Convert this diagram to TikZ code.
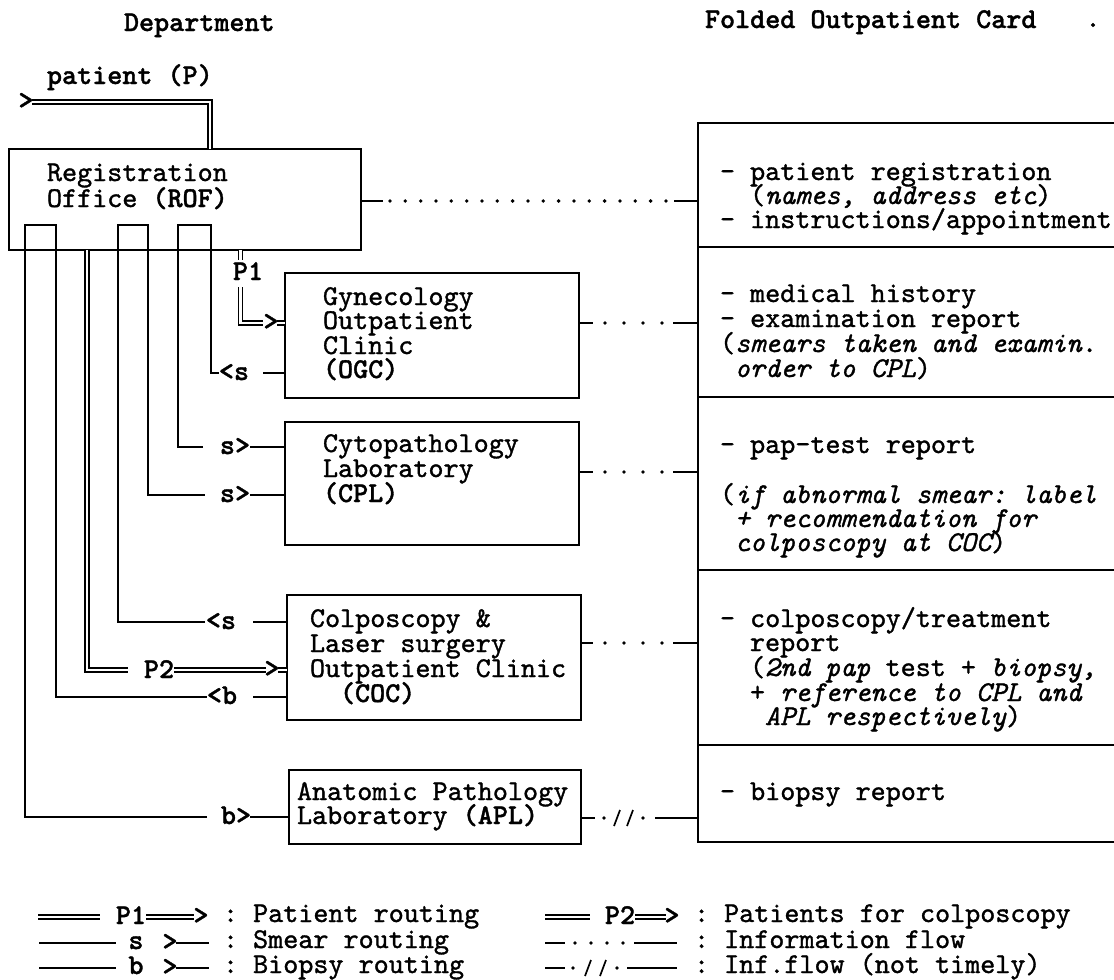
\documentclass[tikz,border=0pt]{standalone}
\usepackage{fontspec}
\setmonofont{lmmono10-regular.otf}[FakeBold=1.2,BoldFont=lmmonolt10-bold.otf,ItalicFont=lmmono10-italic.otf]
\usetikzlibrary{calc}
\newcommand\myff{\ttfamily\fontsize{28.7}{24.6}\selectfont\frenchspacing}
\begin{document}
\begin{tikzpicture}[x=1pt,y=-1pt,
  every node/.style={font=\myff,inner sep=0pt,outer sep=0pt},
  txt/.style={anchor=base west},
  lbl/.style={anchor=base,font=\myff\bfseries},
  boxs/.style={draw,line width=2.2pt,anchor=north west},
  ln/.style={line width=1.8pt},
  dbl/.style={double,line width=1.5pt,double distance=2.4pt},
  dots/.style={line width=3.8pt,line cap=round,dash pattern=on 0pt off #1},
  slash/.style={line width=1.7pt},
]
\useasboundingbox (0,0) rectangle (1114,980);
\clip (0,0) rectangle (1114,980);

% headers
\node[txt,font=\myff\bfseries] (hdep) at (124,31) {Department};
\node[txt,font=\myff\bfseries] (hcard) at (705,28) {Folded Outpatient Card};
\node[lbl] (hdot) at (1093,27) {.};
\node[txt,font=\myff\bfseries] (pat) at (47,84) {patient (P)};

% department boxes
\node[boxs,minimum width=352pt,minimum height=101pt] (rof) at (9,149) {};
\node[boxs,minimum width=294pt,minimum height=125pt] (ogc) at (285,273) {};
\node[boxs,minimum width=294pt,minimum height=123pt] (cpl) at (285,422) {};
\node[boxs,minimum width=294pt,minimum height=125pt] (coc) at (287,595) {};
\node[boxs,minimum width=292pt,minimum height=74pt] (apl) at (289,770) {};

\node[txt] (rof1) at (47,181) {Registration};
\node[txt] (rof2) at (47,207) {Office {\bfseries(ROF)}};
\node[txt] (ogc1) at (323,305) {Gynecology};
\node[txt] (ogc2) at (323,329) {Outpatient};
\node[txt] (ogc3) at (323,354) {Clinic};
\node[txt] (ogc4) at (323,378) {\bfseries(OGC)};
\node[txt] (cpl1) at (323,452) {Cytopathology};
\node[txt] (cpl2) at (323,477) {Laboratory};
\node[txt] (cpl3) at (323,502) {\bfseries(CPL)};
\node[txt] (coc1) at (310,627) {Colposcopy \&};
\node[txt] (coc2) at (310,652) {Laser surgery};
\node[txt] (coc3) at (310,677) {Outpatient Clinic};
\node[txt] (coc4) at (340,702) {\bfseries(COC)};
\node[txt] (apl1) at (297,800) {Anatomic Pathology};
\node[txt] (apl2) at (297,824) {Laboratory {\bfseries(APL)}};

% folded card
\node[boxs,minimum width=440pt,minimum height=124pt] (c1) at (698,123) {};
\node[boxs,minimum width=440pt,minimum height=150pt] (c2) at (698,247) {};
\node[boxs,minimum width=440pt,minimum height=173pt] (c3) at (698,397) {};
\node[boxs,minimum width=440pt,minimum height=175pt] (c4) at (698,570) {};
\node[boxs,minimum width=440pt,minimum height=97pt] (c5) at (698,745) {};

\node[txt] (t11) at (720,180) {- patient registration};
\node[txt] (t12) at (750,204) {({\itshape names, address etc})};
\node[txt] (t13) at (720,228) {- instructions/appointment};
\node[txt] (t21) at (720,302) {- medical history};
\node[txt] (t22) at (720,327) {- examination report};
\node[txt] (t23) at (720,352) {({\itshape smears taken and examin.}};
\node[txt] (t24) at (735,377) {{\itshape order to CPL})};
\node[txt] (t31) at (720,453) {- pap-test report};
\node[txt] (t32) at (720,503) {({\itshape if abnormal smear: label}};
\node[txt] (t33) at (735,527) {{\itshape + recommendation for}};
\node[txt] (t34) at (735,551) {{\itshape colposcopy at COC})};
\node[txt] (t41) at (720,627) {- colposcopy/treatment};
\node[txt] (t42) at (750,651) {report};
\node[txt] (t43) at (750,676) {({\itshape 2nd pap} test + {\itshape biopsy,}};
\node[txt] (t44) at (750,701) {+ {\itshape reference to CPL and}};
\node[txt] (t45) at (765,725) {{\itshape APL respectively})};
\node[txt] (t51) at (720,800) {- biopsy report};

% patient entry
\node[lbl] (pin) at (26,109) {>};
\coordinate (pinA) at (32,102);
\coordinate (rofIn) at (210,149);
\draw[dbl] (pinA) -| (rofIn);

% routing labels
\node[lbl] (sOGC) at (234,380) {<s};
\node[lbl] (sCPL1) at (235,454) {s>};
\node[lbl] (sCPL2) at (235,502) {s>};
\node[lbl] (sCOC) at (221,629) {<s};
\node[lbl] (bCOC) at (222,704) {<b};
\node[lbl] (bAPL) at (236,824) {b>};

% tabs and routing lines (left)
\coordinate (a1) at (207,817); \coordinate (a2) at (25,817); \coordinate (a3) at (25,225);
\coordinate (a4) at (56,225); \coordinate (a5) at (56,697); \coordinate (a6) at (207,697);
\draw[ln] (a1) -- (a2) -- (a3) -- (a4) -- (a5) -- (a6);
\coordinate (b1) at (205,622); \coordinate (b2) at (118,622); \coordinate (b3) at (118,225);
\coordinate (b4) at (148,225); \coordinate (b5) at (148,495); \coordinate (b6) at (205,495);
\draw[ln] (b1) -- (b2) -- (b3) -- (b4) -- (b5) -- (b6);
\coordinate (d1) at (203,447); \coordinate (d2) at (178,447); \coordinate (d3) at (178,225);
\coordinate (d4) at (211,225); \coordinate (d5) at (211,373); \coordinate (d6) at (219,373);
\draw[ln] (d1) -- (d2) -- (d3) -- (d4) -- (d5) -- (d6);

% stubs into boxes
\draw[ln] (263,373) -- (ogc.west |- 0,373);
\draw[ln] (250,447) -- (cpl.west |- 0,447);
\draw[ln] (250,495) -- (cpl.west |- 0,495);
\draw[ln] (253,622) -- (coc.west |- 0,622);
\draw[ln] (253,697) -- (coc.west |- 0,697);
\draw[ln] (250,817) -- (apl.west |- 0,817);

% P1
\coordinate (p1s) at (240.5,250); \coordinate (p1e) at (240.5,260);
\draw[dbl] (p1s) -- (p1e);
\node[lbl] (p1) at (248,280) {P1};
\coordinate (p1b) at (240.5,287); \coordinate (p1c) at (263,323);
\draw[dbl] (p1b) |- (p1c);
\node[lbl] (p1arr) at (271,330) {>};
\draw[dbl] (277,323) -- (ogc.west |- 0,323);

% P2
\coordinate (p2s) at (87,250); \coordinate (p2c) at (128,670);
\draw[dbl] (p2s) |- (p2c);
\node[lbl] (p2) at (159,678) {P2};
\draw[dbl] (174,670) -- (266,670);
\node[lbl] (p2arr) at (272,677) {>};
\draw[dbl] (278,670) -- (coc.west |- 0,670);

% information flow connectors
\draw[ln] (rof.east |- 0,201) -- (383,201);
\draw[dots=15.33pt] (390,201) -- (667,201);
\draw[ln] (674,201) -- (c1.west |- 0,201);

\draw[ln] (ogc.east |- 0,323) -- (593,323);
\draw[dots=19pt] (605,323) -- (663,323);
\draw[ln] (673,323) -- (c2.west |- 0,323);

\draw[ln] (cpl.east |- 0,472) -- (593,472);
\draw[dots=19pt] (605,472) -- (663,472);
\draw[ln] (673,472) -- (c3.west |- 0,472);

\draw[ln] (coc.east |- 0,643) -- (593,643);
\draw[dots=19pt] (605,643) -- (663,643);
\draw[ln] (673,643) -- (c4.west |- 0,643);

\draw[ln] (apl.east |- 0,818) -- (595,818);
\draw[dots=39pt] (604,818) -- (644,818);
\draw[slash] (614,826) -- (620,810);
\draw[slash] (627,826) -- (633,810);
\draw[ln] (655,818) -- (c5.west |- 0,818);

% legend left
\draw[dbl] (38,917) -- (100,917);
\node[lbl] (lg1) at (131,924) {P1};
\draw[dbl] (146,917) -- (194,917);
\node[lbl] (lg1a) at (201,924) {>};
\node[txt] (lg1t) at (223,922) {: Patient routing};

\draw[ln] (39,943) -- (116,943);
\node[lbl] (lg2) at (136,949) {s};
\node[lbl] (lg2a) at (170,950) {>};
\draw[ln] (176,943) -- (209,943);
\node[txt] (lg2t) at (223,948) {: Smear routing};

\draw[ln] (39,968) -- (116,968);
\node[lbl] (lg3) at (136,974) {b};
\node[lbl] (lg3a) at (170,975) {>};
\draw[ln] (176,968) -- (209,968);
\node[txt] (lg3t) at (223,973) {: Biopsy routing};

% legend right
\draw[dbl] (545,917) -- (590,917);
\node[lbl] (rg1) at (620,924) {P2};
\draw[dbl] (635,917) -- (666,917);
\node[lbl] (rg1a) at (672,924) {>};
\node[txt] (rg1t) at (694,922) {: Patients for colposcopy};

\draw[ln] (545,943) -- (565,943);
\draw[dots=16pt] (575,943) -- (624,943);
\draw[ln] (634,943) -- (677,943);
\node[txt] (rg2t) at (694,948) {: Information flow};

\draw[ln] (545,968) -- (565,968);
\draw[dots=44pt] (573,968) -- (618,968);
\draw[slash] (585,976) -- (591,960);
\draw[slash] (600,976) -- (606,960);
\draw[ln] (627,968) -- (677,968);
\node[txt] (rg3t) at (694,973) {: Inf.flow (not timely)};
\end{tikzpicture}
\end{document}
